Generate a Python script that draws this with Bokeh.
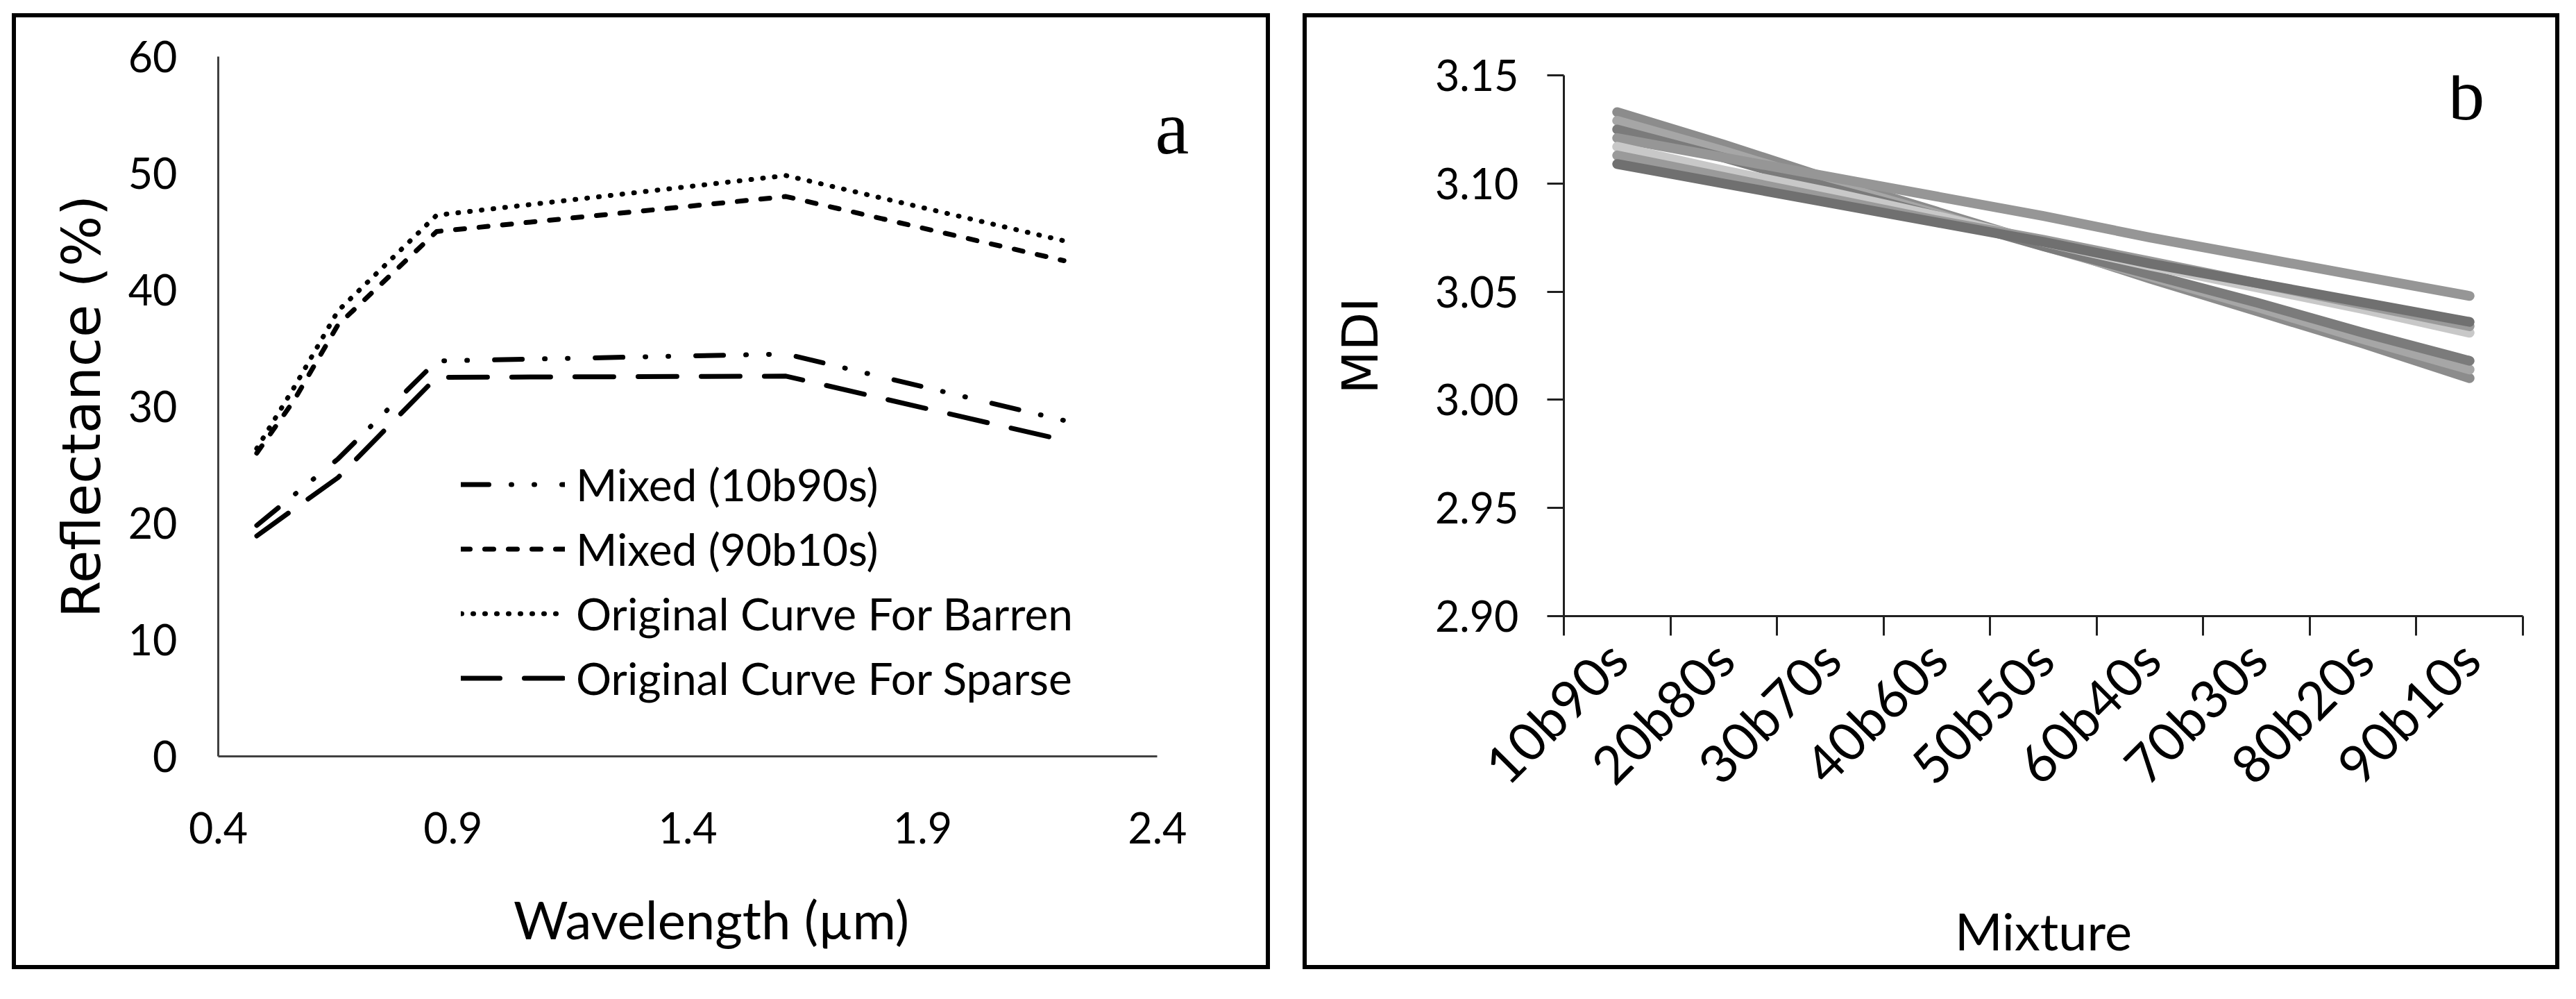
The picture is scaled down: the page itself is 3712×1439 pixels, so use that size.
import math
from bokeh.plotting import figure
from bokeh.models import (Range1d, FixedTicker, Legend, LegendItem, Label, NumeralTickFormatter)
from bokeh.embed import file_html
from bokeh.resources import INLINE

# ---------------- data: panel a ----------------
wavelength = [0.482, 0.561, 0.655, 0.865, 1.609, 2.201]
mixed_10b90s = [19.8, 22.4, 25.5, 33.9, 34.5, 28.8]
mixed_90b10s = [26.0, 30.5, 37.0, 45.0, 48.0, 42.5]
barren = [26.4, 31.6, 38.2, 46.4, 49.8, 44.2]
sparse = [18.9, 21.2, 23.9, 32.5, 32.6, 27.1]
a_xticks = [0.4, 0.9, 1.4, 1.9, 2.4]
a_yticks = [0, 10, 20, 30, 40, 50, 60]

# ---------------- data: panel b ----------------
mixtures = ["10b90s", "20b80s", "30b70s", "40b60s", "50b50s", "60b40s", "70b30s", "80b20s", "90b10s"]
mdi_1 = [3.133, 3.118, 3.102, 3.087, 3.072, 3.056, 3.041, 3.026, 3.010]
mdi_2 = [3.129, 3.115, 3.100, 3.086, 3.071, 3.057, 3.043, 3.028, 3.014]
mdi_3 = [3.125, 3.112, 3.098, 3.085, 3.071, 3.058, 3.045, 3.031, 3.018]
mdi_4 = [3.121, 3.112, 3.103, 3.094, 3.085, 3.075, 3.066, 3.057, 3.048]
mdi_5 = [3.117, 3.106, 3.096, 3.085, 3.073, 3.062, 3.052, 3.042, 3.031]
mdi_6 = [3.113, 3.103, 3.093, 3.083, 3.074, 3.064, 3.054, 3.044, 3.034]
mdi_7 = [3.109, 3.100, 3.091, 3.082, 3.073, 3.063, 3.054, 3.045, 3.036]
b_yticks = [2.90, 2.95, 3.00, 3.05, 3.10, 3.15]

FONT = "Lato"
YFONT = "DejaVu Sans"
BORDER = 6

# ================= Panel a =================
# the frame reaches a little past 2.4 so the panel letter can sit inside it;
# the axis itself is bounded to 0.4 - 2.4
pa = figure(width=1813, height=1377, output_backend="svg", toolbar_location=None,
            x_range=Range1d(0.4, 2.5), y_range=Range1d(0, 60),
            min_border_left=291, min_border_right=101, min_border_top=56, min_border_bottom=313,
            background_fill_color="white", border_fill_color="white", outline_line_color=None)
pa.styles = {"border": f"{BORDER}px solid black", "position": "absolute", "left": "17px", "top": "19px"}
pa.grid.visible = False

for ax in (pa.xaxis[0], pa.yaxis[0]):
    ax.axis_line_color = "#404040"
    ax.axis_line_width = 3
    ax.major_tick_line_color = None
    ax.minor_tick_line_color = None
    ax.major_tick_out = 0
    ax.major_tick_in = 0
    ax.major_label_text_font = FONT
    ax.major_label_text_font_size = "61px"
    ax.major_label_text_color = "black"
    ax.axis_label_text_font_style = "normal"
    ax.axis_label_text_color = "black"

pa.xaxis[0].bounds = (a_xticks[0], a_xticks[-1])
pa.xaxis[0].ticker = FixedTicker(ticks=a_xticks)
pa.yaxis[0].ticker = FixedTicker(ticks=a_yticks)
pa.xaxis[0].major_label_standoff = 80
pa.yaxis[0].major_label_standoff = 59
pa.xaxis[0].axis_label = "Wavelength (µm)"
pa.xaxis[0].axis_label_text_font = FONT
pa.xaxis[0].axis_label_text_font_size = "76px"
pa.xaxis[0].axis_label_standoff = 60
pa.yaxis[0].axis_label = "Reflectance (%)"
pa.yaxis[0].axis_label_text_font = YFONT
pa.yaxis[0].axis_label_text_font_size = "77px"
pa.yaxis[0].axis_label_standoff = 20

common = dict(line_color="black", line_width=7, line_join="round", line_cap="round")
r1 = pa.line(wavelength, mixed_10b90s, line_dash="40 32 1 32 1 39", **common)
r2 = pa.line(wavelength, mixed_90b10s, line_dash="13 21", **common)
r3 = pa.line(wavelength, barren, line_dash="1 16", **common)
r4 = pa.line(wavelength, sparse, line_dash="56 35", **common)

legend = Legend(items=[LegendItem(label="Mixed (10b90s)", renderers=[r1]),
                       LegendItem(label="Mixed (90b10s)", renderers=[r2]),
                       LegendItem(label="Original Curve For Barren", renderers=[r3]),
                       LegendItem(label="Original Curve For Sparse", renderers=[r4])],
                location=(350, 66), padding=0, margin=0, spacing=0,
                glyph_width=150, glyph_height=93, label_height=93, label_standoff=16,
                label_text_font=FONT, label_text_font_size="64px", label_text_color="black",
                border_line_color=None, background_fill_alpha=0)
pa.add_layout(legend, "center")

pa.add_layout(Label(x=2.431, y=53.9, text="a", text_font="Liberation Serif", text_font_size="110px",
                    text_align="center", text_baseline="alphabetic", text_color="black"))

# ================= Panel b =================
n = len(mixtures)
cat_pos = [i + 0.5 for i in range(n)]          # category centres
cat_bounds = [i for i in range(n + 1)]          # category boundaries (tick marks)

pb = figure(width=1811, height=1377, output_backend="svg", toolbar_location=None,
            x_range=Range1d(0, n), y_range=Range1d(2.90, 3.15),
            min_border_left=370, min_border_right=59, min_border_top=83, min_border_bottom=515,
            background_fill_color="white", border_fill_color="white", outline_line_color=None)
pb.styles = {"border": f"{BORDER}px solid black", "position": "absolute", "left": "1877px", "top": "19px"}
pb.grid.visible = False

xb = pb.xaxis[0]
xb.ticker = FixedTicker(ticks=cat_pos, minor_ticks=cat_bounds)
xb.major_label_overrides = {p: m for p, m in zip(cat_pos, mixtures)}
xb.axis_line_color = "#202020"
xb.axis_line_width = 3
xb.major_tick_line_color = None
xb.major_tick_out = 0
xb.major_tick_in = 0
xb.minor_tick_line_color = "#202020"
xb.minor_tick_line_width = 3
xb.minor_tick_out = 28
xb.minor_tick_in = 0
xb.major_label_orientation = math.pi / 4
xb.major_label_standoff = 20
xb.major_label_text_font = FONT
xb.major_label_text_font_size = "76px"
xb.major_label_text_color = "black"
xb.axis_label = "Mixture"
xb.axis_label_text_font = FONT
xb.axis_label_text_font_size = "74px"
xb.axis_label_text_font_style = "normal"
xb.axis_label_text_color = "black"
xb.axis_label_standoff = 115

yb = pb.yaxis[0]
yb.ticker = FixedTicker(ticks=b_yticks)
yb.formatter = NumeralTickFormatter(format="0.00")
yb.axis_line_color = "#202020"
yb.axis_line_width = 3
yb.major_tick_line_color = "#202020"
yb.major_tick_line_width = 3
yb.major_tick_out = 24
yb.major_tick_in = 0
yb.minor_tick_line_color = None
yb.major_label_standoff = 41
yb.major_label_text_font = FONT
yb.major_label_text_font_size = "61px"
yb.major_label_text_color = "black"
yb.axis_label = "MDI"
yb.axis_label_text_font = YFONT
yb.axis_label_text_font_size = "72px"
yb.axis_label_text_font_style = "normal"
yb.axis_label_text_color = "black"
yb.axis_label_standoff = 63

series_b = [mdi_1, mdi_2, mdi_3, mdi_4, mdi_5, mdi_6, mdi_7]
colors_b = ["#8c8c8c", "#a6a6a6", "#7b7b7b", "#969696", "#c8c8c8", "#9a9a9a", "#707070"]
for vals, col in zip(series_b, colors_b):
    pb.line(cat_pos, vals, line_color=col, line_width=14, line_cap="round", line_join="round")

pb.add_layout(Label(x=8.47, y=3.141, text="b", text_font="Liberation Serif",
                    text_font_size="105px", text_align="center", text_baseline="alphabetic",
                    text_color="black"))

open("out.html", "w").write(file_html((pa, pb), INLINE))
